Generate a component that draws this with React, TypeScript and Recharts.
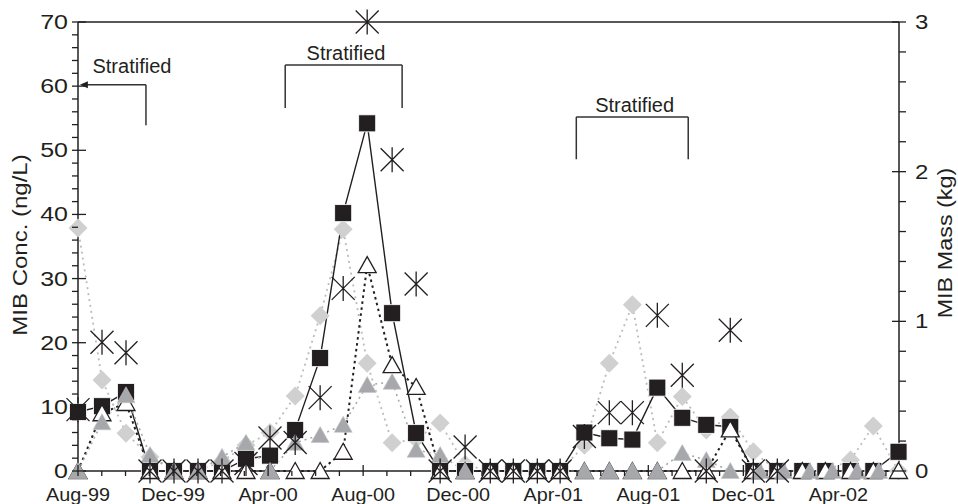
import { ComposedChart, Line, XAxis, YAxis, ReferenceLine, ReferenceDot } from "recharts";

// ─── Sampling dates: months after 1 Aug 1999 ─────────────────────────────────
const sampleMonths = [
  0, 1.01, 2.02, 3.03, 4.04, 5.05, 6.06, 7.07, 8.08, 9.14, 10.19, 11.16, 12.17,
  13.22, 14.23, 15.24, 16.29, 17.35, 18.32, 19.33, 20.29, 21.31, 22.36, 23.33,
  24.38, 25.43, 26.44, 27.45, 28.42, 29.43, 30.48, 31.45, 32.51, 33.47, 34.53,
];
const grayTriMonths = [
  0, 1.01, 2.02, 3.03, 4.04, 5.05, 6.06, 7.07, 8.08, 9.14, 10.19, 11.16, 12.17,
  13.22, 14.23, 15.24, 16.29, 17.35, 18.32, 19.33, 20.29, 21.31, 22.36, 23.33,
  24.38, 25.43, 26.44, 27.45, 28.7, 29.7, 30.8, 31.75, 32.8, 33.7,
];

// ─── MIB concentrations (ng/L) ───────────────────────────────────────────────
const squareConc = [
  9.2, 10.1, 12.3, 0, 0, 0, 0, 1.9, 2.4, 6.4, 17.6, 40.2, 54.2, 24.6, 5.9, 0, 0,
  0, 0, 0, 0, 6.0, 5.1, 4.9, 13.0, 8.3, 7.2, 6.9, 0, 0, 0, 0, 0, 0, 3.0,
];
const diamondConc = [
  37.9, 14.2, 5.9, 2.2, 0, 0, 1.5, 4, 6, 11.7, 24.2, 37.7, 16.8, 4.4, 5.0, 7.5,
  1.0, 0, 0, 0, 0, 4, 16.8, 25.9, 4.4, 11.6, 6.4, 8.4, 3.0, 0, 0, 0, 1.7, 7.0, 0,
];
const openTriConc = [
  0, 9.0, 10.6, 0, 0, 0, 0, 0, 0, 0, 0, 3.0, 32.1, 16.5, 13.1, 0, 0, 0, 0, 0, 0,
  0, 0, 0, 0, 0, 0, 6.5, 0, 0, 0, 0, 0, 0, 0,
];
const grayTriConc = [
  0, 7.6, 11.8, 2.5, 0, 0, 2.2, 4.4, 0, 4.4, 5.6, 7.2, 13.4, 13.9, 3.3, 2.5, 0,
  null, null, null, null, 0, 0, 0, 0, 2.8, 1.7, 0, 0, 0, 0, 0, 0, 0,
];

// ─── MIB mass (kg), right axis ───────────────────────────────────────────────
const asteriskMass = [
  0.41, 0.86, 0.79, 0, 0, 0, 0, 0.05, 0.22, 0.19, 0.49, 1.22, 3.0, 2.08, 1.25, 0,
  0.16, 0, 0, 0, 0, 0.23, 0.39, 0.39, 1.04, 0.64, 0, 0.94, 0, 0, null, null, null,
  null, null,
];

// ─── Axes ────────────────────────────────────────────────────────────────────
const xTickMonths = [0, 4, 8, 12, 16, 20, 24, 28, 32];
const xTickLabels = ["Aug-99", "Dec-99", "Apr-00", "Aug-00", "Dec-00", "Apr-01", "Aug-01", "Dec-01", "Apr-02"];
const monthTicks = Array.from({ length: 35 }, (_, i) => i);
const concTicks = Array.from({ length: 36 }, (_, i) => i * 2);
const massTicks = Array.from({ length: 16 }, (_, i) => i / 5);

// stratified periods (months / ng/L positions of the brackets)
const stratifiedArrow = { from: 2.86, to: 0.08, level: 60.2, bottom: 53.9, labelX: 2.27, labelY: 62.05 };
const stratifiedBrackets = [
  { start: 8.72, end: 13.64, level: 63.3, bottom: 56.6, labelY: 64.0 },
  { start: 20.97, end: 25.68, level: 55.2, bottom: 48.6, labelY: 56.0 },
];

const INK = "#231f20";
const FONT = "'Liberation Sans', Arial, Helvetica, sans-serif";

const toPoints = (months: number[], values: (number | null)[]) =>
  months.map((m, i) => ({ m, v: values[i] }));

const squareData = toPoints(sampleMonths, squareConc);
const diamondData = toPoints(sampleMonths, diamondConc);
const openTriData = toPoints(sampleMonths, openTriConc);
const grayTriData = toPoints(grayTriMonths, grayTriConc);
const asteriskData = toPoints(sampleMonths, asteriskMass);

// ─── Markers ─────────────────────────────────────────────────────────────────
const missing = (p: any) => p.cx == null || p.cy == null || p.value == null;

const renderSquare = (p: any) =>
  missing(p) ? <g key={p.index} /> : (
    <rect key={p.index} x={p.cx - 8.5} y={p.cy - 8.5} width={17} height={17} fill={INK} stroke="#fff" strokeWidth={0.8} />
  );

const renderDiamond = (p: any) =>
  missing(p) ? <g key={p.index} /> : (
    <polygon
      key={p.index}
      points={`${p.cx},${p.cy - 9.5} ${p.cx + 9.5},${p.cy} ${p.cx},${p.cy + 9.5} ${p.cx - 9.5},${p.cy}`}
      fill="#d0d0d0"
    />
  );

const triPoints = (cx: number, cy: number) =>
  `${cx},${cy - 8.5} ${cx + 9},${cy + 7.5} ${cx - 9},${cy + 7.5}`;

const renderOpenTri = (p: any) =>
  missing(p) ? <g key={p.index} /> : (
    <polygon key={p.index} points={triPoints(p.cx, p.cy)} fill="#fff" stroke={INK} strokeWidth={1.3} />
  );

const renderGrayTri = (p: any) =>
  missing(p) ? <g key={p.index} /> : (
    <polygon key={p.index} points={triPoints(p.cx, p.cy)} fill="#a6a8ab" stroke="#c4c5c7" strokeWidth={0.6} />
  );

const renderAsterisk = (p: any) => {
  if (missing(p)) return <g key={p.index} />;
  const { cx, cy } = p;
  const r = 11.5;
  return (
    <path
      key={p.index}
      d={`M${cx - r},${cy - r}L${cx + r},${cy + r}M${cx + r},${cy - r}L${cx - r},${cy + r}M${cx},${cy - 12.5}L${cx},${cy + 12.5}`}
      stroke={INK}
      strokeWidth={1.3}
      fill="none"
    />
  );
};

// ─── Ticks ───────────────────────────────────────────────────────────────────
function MonthTick({ x, y, payload }: any) {
  const px = payload?.coordinate ?? x;
  const major = xTickMonths.includes(payload.value);
  return <line x1={px} x2={px} y1={major ? y - 6 : y} y2={y + 5} stroke={INK} strokeWidth={1.3} />;
}

function ConcTick({ x, y, payload }: any) {
  const v = payload.value;
  const major = v % 10 === 0;
  return (
    <g>
      <line x1={x - 6} x2={major ? x + 8 : x} y1={y} y2={y} stroke={INK} strokeWidth={1.3} />
      {major && (
        <text
          transform={`translate(${x - 10},${y + 7}) scale(1.25,1)`}
          textAnchor="end"
          fontSize={20}
          fontFamily={FONT}
          fill={INK}
        >
          {v}
        </text>
      )}
    </g>
  );
}

function MassTick({ x, y, payload }: any) {
  const v = payload.value;
  const major = Number.isInteger(v);
  return (
    <g>
      <line x1={major ? x - 7 : x} x2={x + 7} y1={y} y2={y} stroke={INK} strokeWidth={1.3} />
      {major && (
        <text
          transform={`translate(${x + 16},${y + 7}) scale(1.2,1)`}
          textAnchor="start"
          fontSize={20}
          fontFamily={FONT}
          fill={INK}
        >
          {v}
        </text>
      )}
    </g>
  );
}

// month label drawn under the axis at a ReferenceDot position
const monthLabel = (text: string) => (p: any) => (
  <text
    transform={`translate(${p.cx},${p.cy + 30}) scale(1.1,1)`}
    textAnchor="middle"
    fontSize={18}
    fontFamily={FONT}
    fill={INK}
  >
    {text}
  </text>
);

const ArrowShape = (p: any) => {
  const { x1, y1, x2, y2 } = p;
  return (
    <g>
      <line x1={x1} y1={y1} x2={x2 + 6} y2={y2} stroke="#333" strokeWidth={1.5} />
      <polygon points={`${x2},${y2} ${x2 + 8},${y2 - 3.5} ${x2 + 8},${y2 + 3.5}`} fill={INK} />
    </g>
  );
};

const stratLabel = (p: any) => (
  <text x={p.cx} y={p.cy} textAnchor="middle" fontSize={20} fontFamily={FONT} fill={INK}>
    Stratified
  </text>
);

export default function App() {
  return (
    <div style={{ position: "absolute", left: 0, top: 0, width: 958, height: 504, background: "#fff" }}>
      <ComposedChart width={958} height={504} margin={{ top: 22, right: 0, bottom: 0, left: 0 }}>
        <XAxis
          type="number"
          dataKey="m"
          domain={[0, 34.55]}
          ticks={monthTicks}
          interval={0}
          height={33}
          tickSize={0}
          tickMargin={0}
          tick={<MonthTick />}
          axisLine={{ stroke: INK, strokeWidth: 1.5 }}
          tickLine={false}
        />
        <YAxis
          yAxisId="left"
          domain={[0, 70]}
          ticks={concTicks}
          interval={0}
          width={78}
          tickSize={0}
          tickMargin={0}
          tick={<ConcTick />}
          axisLine={{ stroke: INK, strokeWidth: 1.5 }}
          tickLine={false}
        />
        <YAxis
          yAxisId="right"
          orientation="right"
          domain={[0, 3]}
          ticks={massTicks}
          interval={0}
          width={59}
          tickSize={0}
          tickMargin={0}
          tick={<MassTick />}
          axisLine={{ stroke: INK, strokeWidth: 1.5 }}
          tickLine={false}
        />

        <ReferenceLine yAxisId="left" y={70} stroke={INK} strokeWidth={1.5} />

        {xTickMonths.map((m, i) => (
          <ReferenceDot key={`x${m}`} yAxisId="left" x={m} y={0} r={0} shape={monthLabel(xTickLabels[i])} />
        ))}

        {/* stratification brackets */}
        <ReferenceLine
          yAxisId="left"
          segment={[{ x: stratifiedArrow.from, y: stratifiedArrow.level }, { x: stratifiedArrow.to, y: stratifiedArrow.level }]}
          shape={ArrowShape}
        />
        <ReferenceLine
          yAxisId="left"
          segment={[{ x: stratifiedArrow.from, y: stratifiedArrow.level }, { x: stratifiedArrow.from, y: stratifiedArrow.bottom }]}
          stroke="#333"
          strokeWidth={1.5}
        />
        <ReferenceDot yAxisId="left" x={stratifiedArrow.labelX} y={stratifiedArrow.labelY} r={0} shape={stratLabel} />
        {stratifiedBrackets.map((b, i) => [
          <ReferenceLine
            key={`h${i}`}
            yAxisId="left"
            segment={[{ x: b.start, y: b.level }, { x: b.end, y: b.level }]}
            stroke="#333"
            strokeWidth={1.5}
          />,
          <ReferenceLine
            key={`l${i}`}
            yAxisId="left"
            segment={[{ x: b.start, y: b.level }, { x: b.start, y: b.bottom }]}
            stroke="#333"
            strokeWidth={1.5}
          />,
          <ReferenceLine
            key={`r${i}`}
            yAxisId="left"
            segment={[{ x: b.end, y: b.level }, { x: b.end, y: b.bottom }]}
            stroke="#333"
            strokeWidth={1.5}
          />,
          <ReferenceDot key={`t${i}`} yAxisId="left" x={(b.start + b.end) / 2 + 0.1} y={b.labelY} r={0} shape={stratLabel} />,
        ])}

        <Line
          yAxisId="left"
          data={diamondData}
          dataKey="v"
          stroke="#bcbcbc"
          strokeWidth={1.8}
          strokeDasharray="2 4"
          dot={renderDiamond}
          activeDot={false}
          isAnimationActive={false}
        />
        <Line
          yAxisId="left"
          data={squareData}
          dataKey="v"
          stroke={INK}
          strokeWidth={1.4}
          dot={renderSquare}
          activeDot={false}
          isAnimationActive={false}
        />
        <Line
          yAxisId="left"
          data={openTriData}
          dataKey="v"
          stroke={INK}
          strokeWidth={2}
          strokeDasharray="2.5 3.5"
          dot={renderOpenTri}
          activeDot={false}
          isAnimationActive={false}
        />
        <Line
          yAxisId="left"
          data={grayTriData}
          dataKey="v"
          stroke="#a8a8a8"
          strokeWidth={1.6}
          strokeDasharray="2 4"
          dot={renderGrayTri}
          activeDot={false}
          isAnimationActive={false}
        />
        <Line
          yAxisId="right"
          data={asteriskData}
          dataKey="v"
          stroke="none"
          dot={renderAsterisk}
          activeDot={false}
          isAnimationActive={false}
        />
      </ComposedChart>

      {/* axis titles */}
      <svg width={958} height={504} style={{ position: "absolute", left: 0, top: 0, pointerEvents: "none" }}>
        <text
          transform="translate(27,245) rotate(-90) scale(1.2,1)"
          textAnchor="middle"
          fontSize={20}
          fontFamily={FONT}
          fill={INK}
        >
          MIB Conc. (ng/L)
        </text>
        <text
          transform="translate(952,243) rotate(-90) scale(1.17,1)"
          textAnchor="middle"
          fontSize={20}
          fontFamily={FONT}
          fill={INK}
        >
          MIB Mass (kg)
        </text>
      </svg>
    </div>
  );
}
